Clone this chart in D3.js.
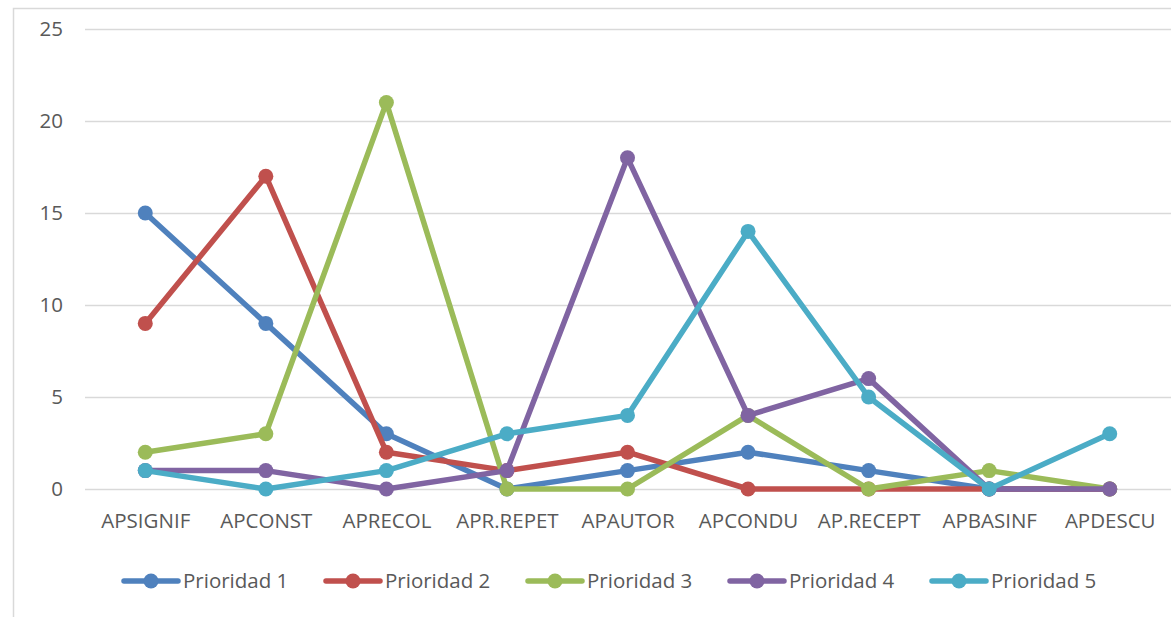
<!DOCTYPE html>
<html><head><meta charset="utf-8">
<script src="https://cdn.jsdelivr.net/npm/d3@7"></script>
<style>body{margin:0;background:#fff;} svg{display:block;}</style>
</head><body>
<svg id="c" width="1171" height="617"></svg>
<script>
const categories = ["APSIGNIF","APCONST","APRECOL","APR.REPET","APAUTOR","APCONDU","AP.RECEPT","APBASINF","APDESCU"];
const seriesNames = ["Prioridad 1","Prioridad 2","Prioridad 3","Prioridad 4","Prioridad 5"];
const p1 = [15, 9, 3, 0, 1, 2, 1, 0, 0];
const p2 = [9, 17, 2, 1, 2, 0, 0, 0, 0];
const p3 = [2, 3, 21, 0, 0, 4, 0, 1, 0];
const p4 = [1, 1, 0, 1, 18, 4, 6, 0, 0];
const p5 = [1, 0, 1, 3, 4, 14, 5, 0, 3];
const yTicks = [0, 5, 10, 15, 20, 25];
const colors = ["#4F81BD","#C0504D","#9BBB59","#8064A2","#4BACC6"];
const seriesValues = [p1, p2, p3, p4, p5];

const svg = d3.select("#c");
const font = "'Open Sans', sans-serif";
const fs = 20.5;
// chart border
svg.append("rect").attr("x",13.5).attr("y",8.5).attr("width",1200).attr("height",700)
  .attr("fill","none").attr("stroke","#d9d9d9").attr("stroke-width",1.5);

const x = d3.scalePoint().domain(categories).range([85,1170]).padding(0.5);
const y = d3.scaleLinear().domain([0,25]).range([489,29]);

// gridlines
svg.append("g").selectAll("line").data(yTicks).join("line")
  .attr("x1",85).attr("x2",1171)
  .attr("y1",d=>Math.round(y(d))+0.5).attr("y2",d=>Math.round(y(d))+0.5)
  .attr("stroke","#d9d9d9").attr("stroke-width",1.3);

// y axis labels
const yAxis = d3.axisLeft(y).tickValues(yTicks).tickSize(0).tickPadding(0);
const gy = svg.append("g").attr("transform","translate(63,0)").call(yAxis);
gy.select(".domain").remove();
gy.selectAll("text").attr("font-family",font).attr("font-size",fs).attr("fill","#595959");

// x axis labels
const xAxis = d3.axisBottom(x).tickSize(0).tickPadding(0);
const gx = svg.append("g").attr("transform","translate(0,513)").call(xAxis);
gx.select(".domain").remove();
gx.selectAll("text").attr("font-family",font).attr("font-size",fs).attr("fill","#595959");

const line = d3.line().x((d,i)=>x(categories[i])).y(d=>y(d));
seriesValues.forEach((vals, s) => {
  const g = svg.append("g");
  g.append("path").datum(vals).attr("d",line).attr("fill","none")
    .attr("stroke",colors[s]).attr("stroke-width",5.5).attr("stroke-linejoin","round").attr("stroke-linecap","round");
  g.selectAll("circle").data(vals).join("circle")
    .attr("cx",(d,i)=>x(categories[i])).attr("cy",d=>y(d)).attr("r",7.5).attr("fill",colors[s]);
});

// legend
const lg = svg.append("g");
seriesNames.forEach((n, s) => {
  const cx = 151 + s*202;
  const cy = 581;
  lg.append("line").attr("x1",cx-27).attr("x2",cx+27).attr("y1",cy).attr("y2",cy)
    .attr("stroke",colors[s]).attr("stroke-width",5.5).attr("stroke-linecap","round");
  lg.append("circle").attr("cx",cx).attr("cy",cy).attr("r",7.5).attr("fill",colors[s]);
  lg.append("text").attr("x",cx+32).attr("y",cy).attr("dy","0.35em")
    .attr("font-family",font).attr("font-size",fs).attr("fill","#595959").text(n);
});
</script>
</body></html>
